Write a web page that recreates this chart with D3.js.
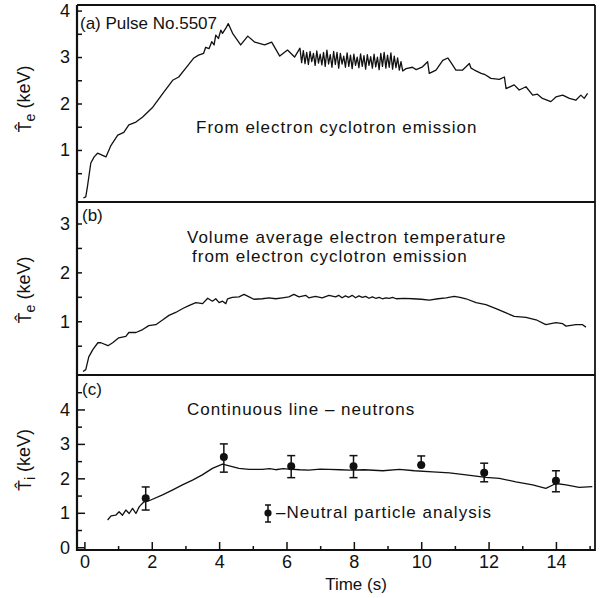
<!DOCTYPE html>
<html>
<head>
<meta charset="utf-8">
<script src="https://cdn.jsdelivr.net/npm/d3@7"></script>
<style>
  body { margin: 0; background: #fff; }
  text { font-family: "Liberation Sans", Arial, sans-serif; fill: #111; }
</style>
</head>
<body>
<div id="wrapper"></div>
<script>
// (a) electron temperature from ECE, [time s, keV]
const eceTe = [
  [-0.03,-0.03],[0.04,-0.01],[0.09,0.21],[0.19,0.72],[0.29,0.85],[0.39,0.93],[0.64,0.85],
  [0.79,1.1],[0.99,1.32],[1.17,1.38],[1.32,1.54],[1.53,1.6],[1.73,1.71],[2.03,1.92],
  [2.33,2.22],[2.62,2.5],[2.8,2.57],[3.01,2.76],[3.25,2.98],[3.39,3.04],[3.54,3.08],
  [3.6,3.21],[3.7,3.18],[3.78,3.33],[3.85,3.26],[3.9,3.47],[3.98,3.4],[4.05,3.58],
  [4.1,3.51],[4.2,3.62],[4.27,3.72],[4.4,3.51],[4.64,3.26],[4.85,3.45],[5.06,3.32],
  [5.35,3.26],[5.56,3.32],[5.8,3.02],[6.03,3.15],[6.24,3.0],[6.4,3.19],
  [6.45,2.88],[6.5,3.14],[6.55,2.86],[6.6,3.1],[6.65,2.84],[6.7,3.12],[6.75,2.9],
  [6.8,3.08],[6.85,2.82],[6.9,3.13],[6.95,2.87],[7.0,3.06],[7.05,2.83],[7.1,3.1],
  [7.15,2.8],[7.2,3.15],[7.25,2.85],[7.3,3.05],[7.35,2.78],[7.4,3.12],[7.45,2.84],
  [7.5,3.1],[7.55,2.76],[7.6,3.08],[7.65,2.85],[7.7,3.02],[7.75,2.78],[7.8,3.09],
  [7.85,2.8],[7.9,3.04],[7.95,2.75],[8.0,3.06],[8.05,2.82],[8.1,3.0],[8.15,2.77],
  [8.2,3.07],[8.25,2.8],[8.3,3.03],[8.35,2.74],[8.4,3.05],[8.45,2.82],[8.5,3.01],
  [8.55,2.76],[8.6,3.06],[8.65,2.79],[8.7,3.0],[8.75,2.73],[8.8,3.08],[8.85,2.8],
  [8.9,3.1],[8.95,2.76],[9.0,3.04],[9.05,2.78],[9.1,3.09],[9.15,2.74],[9.2,3.02],
  [9.25,2.77],[9.3,2.98],[9.35,2.72],[9.4,2.9],[9.45,2.7],
  [9.55,2.75],[9.74,2.78],[9.85,2.73],[10.04,2.79],[10.19,2.9],[10.24,2.65],[10.44,2.72],
  [10.64,2.93],[10.79,2.98],[10.93,2.83],[11.03,2.72],[11.23,2.72],[11.43,2.86],[11.48,2.76],
  [11.58,2.72],[11.78,2.65],[11.9,2.62],[12.07,2.54],[12.32,2.52],[12.47,2.57],[12.52,2.32],
  [12.76,2.4],[12.91,2.29],[13.11,2.36],[13.31,2.18],[13.45,2.2],[13.6,2.11],[13.85,2.04],
  [14.0,2.14],[14.2,2.18],[14.4,2.11],[14.59,2.07],[14.74,2.18],[14.84,2.11],[14.94,2.22]
]

// (b) volume average electron temperature
const volTe = [
  [-0.04,-0.03],[0.04,0.01],[0.13,0.27],[0.25,0.42],[0.4,0.56],[0.49,0.56],[0.7,0.5],
  [0.84,0.56],[1.02,0.66],[1.23,0.69],[1.32,0.77],[1.53,0.77],[1.73,0.83],[1.91,0.91],
  [2.12,0.93],[2.33,1.03],[2.51,1.12],[2.71,1.18],[2.92,1.26],[3.1,1.32],[3.31,1.38],
  [3.51,1.36],[3.66,1.47],[3.8,1.41],[3.9,1.46],[4.0,1.38],[4.1,1.41],[4.2,1.36],
  [4.25,1.46],[4.39,1.49],[4.59,1.5],[4.74,1.55],[4.89,1.5],[5.03,1.45],[5.28,1.46],
  [5.48,1.48],[5.68,1.46],[5.88,1.48],[6.07,1.5],[6.22,1.55],[6.37,1.5],[6.57,1.53],
  [6.66,1.48],[6.86,1.51],[7.06,1.48],[7.26,1.53],[7.46,1.5],[7.55,1.53],[7.65,1.48],
  [7.75,1.52],[7.85,1.49],[7.95,1.53],[8.05,1.48],[8.15,1.52],[8.25,1.49],[8.35,1.51],
  [8.45,1.47],[8.55,1.5],[8.65,1.47],[8.75,1.49],[8.85,1.46],[8.95,1.48],[9.05,1.47],
  [9.15,1.49],[9.26,1.46],[9.5,1.47],[9.75,1.46],[10.0,1.45],[10.24,1.43],[10.5,1.46],
  [10.74,1.48],[10.98,1.51],[11.15,1.49],[11.33,1.46],[11.63,1.38],[11.92,1.34],
  [12.22,1.26],[12.52,1.17],[12.76,1.1],[13.11,1.08],[13.41,1.03],[13.7,0.93],
  [14.0,0.97],[14.2,0.95],[14.3,0.9],[14.59,0.93],[14.79,0.93],[14.89,0.88]
]

// (c) ion temperature from neutrons
const neutronTi = [
  [0.69,0.79],[0.79,0.91],[0.93,0.93],[1.03,1.03],[1.13,0.93],[1.23,1.08],[1.33,0.98],
  [1.43,1.13],[1.53,0.98],[1.63,1.18],[1.77,1.32],[1.92,1.35],[2.32,1.52],[2.61,1.66],
  [2.91,1.81],[3.21,1.95],[3.5,2.1],[3.8,2.29],[4.1,2.41],[4.3,2.36],[4.59,2.29],
  [4.89,2.26],[5.28,2.26],[5.5,2.28],[5.68,2.25],[5.9,2.28],[6.07,2.27],[6.4,2.25],
  [6.66,2.24],[7.0,2.27],[7.26,2.26],[7.6,2.25],[7.87,2.24],[8.3,2.25],[8.86,2.22],
  [9.35,2.26],[9.8,2.22],[10.34,2.19],[10.84,2.16],[11.33,2.1],[11.92,2.03],[12.32,2.0],
  [12.81,1.9],[13.31,1.81],[13.7,1.71],[14.0,1.85],[14.3,1.81],[14.69,1.74],[15.08,1.76]
]

// neutral particle analysis points
const npaTime = [1.82, 4.14, 6.14, 7.99, 10.0, 11.87, 14.0]
const npaTi   = [1.42, 2.62, 2.35, 2.35, 2.39, 2.16, 1.93]
const npaLow  = [1.08, 2.18, 2.02, 2.02, 2.39, 1.9, 1.61]
const npaHigh = [1.75, 3.0, 2.66, 2.66, 2.65, 2.44, 2.22]

const xTicks = [0, 2, 4, 6, 8, 10, 12, 14]
const xMinorTicks = [1, 3, 5, 7, 9, 11, 13, 15]
const yTicksA = [1, 2, 3, 4]
const yTicksB = [1, 2, 3]
const yTicksC = [0, 1, 2, 3, 4]

function drawChart() {
  const dimensions = {
    width: 606,
    height: 598,
    left: 77,
    right: 595,
  }

  const wrapper = d3.select("#wrapper")
    .append("svg")
      .attr("width", dimensions.width)
      .attr("height", dimensions.height)

  wrapper.append("rect")
    .attr("width", dimensions.width)
    .attr("height", dimensions.height)
    .attr("fill", "white")

  const xScale = d3.scaleLinear()
    .domain([-0.22, 15.16])
    .range([dimensions.left, dimensions.right])

  const panels = [
    { top: 5, bottom: 202, domain: [-0.12, 4.12], ticks: yTicksA, minor: [0.5, 1.5, 2.5, 3.5], data: eceTe, tick: 5 },
    { top: 202, bottom: 375, domain: [-0.1, 3.44], ticks: yTicksB, minor: [0.5, 1.5, 2.5], data: volTe, tick: 5 },
    { top: 375, bottom: 550, domain: [-0.08, 5.0], ticks: yTicksC, minor: [0.5, 1.5, 2.5, 3.5, 4.5], data: neutronTi, tick: 8 },
  ]

  panels.forEach(p => {
    p.yScale = d3.scaleLinear()
      .domain(p.domain)
      .range([p.bottom, p.top])

    const yAxis = wrapper.append("g")
      .attr("transform", `translate(${dimensions.left},0)`)
      .call(d3.axisLeft(p.yScale)
        .tickValues(p.ticks)
        .tickSize(-p.tick)
        .tickPadding(7)
        .tickFormat(d3.format("d")))
    yAxis.select(".domain").remove()
    yAxis.selectAll("line").attr("stroke", "#111").attr("stroke-width", 1.5)
    yAxis.selectAll("text")
      .style("font-family", "'Liberation Sans', Arial, sans-serif")
      .style("font-size", "18px")
      .attr("fill", "#111")

    const yMinor = wrapper.append("g")
      .attr("transform", `translate(${dimensions.left},0)`)
      .call(d3.axisLeft(p.yScale)
        .tickValues(p.minor)
        .tickSize(-5)
        .tickFormat(""))
    yMinor.select(".domain").remove()
    yMinor.selectAll("line").attr("stroke", "#111").attr("stroke-width", 1.5)

    const line = d3.line()
      .x(d => xScale(d[0]))
      .y(d => p.yScale(d[1]))

    wrapper.append("path")
      .datum(p.data)
      .attr("d", line)
      .attr("fill", "none")
      .attr("stroke", "#111")
      .attr("stroke-width", 1.3)
      .attr("stroke-linejoin", "round")
  })

  // frame
  const frame = wrapper.append("g")
    .attr("stroke", "#111")
  frame.append("line")
    .attr("x1", dimensions.left).attr("x2", dimensions.left)
    .attr("y1", 5).attr("y2", 551)
    .attr("stroke-width", 2.2)
  frame.append("line")
    .attr("x1", dimensions.right).attr("x2", dimensions.right)
    .attr("y1", 5).attr("y2", 551)
    .attr("stroke-width", 1.8)
  ;[5, 202, 375, 550].forEach((y, i) => {
    frame.append("line")
      .attr("x1", dimensions.left).attr("x2", dimensions.right)
      .attr("y1", y).attr("y2", y)
      .attr("stroke-width", i === 3 ? 2.2 : 1.8)
  })

  // x axis on the bottom panel
  const xAxis = wrapper.append("g")
    .attr("transform", "translate(0,550)")
    .call(d3.axisBottom(xScale)
      .tickValues(xTicks)
      .tickSize(-8)
      .tickPadding(5))
  xAxis.select(".domain").remove()
  xAxis.selectAll("line").attr("stroke", "#111").attr("stroke-width", 1.5)
  xAxis.selectAll("text")
    .style("font-family", "'Liberation Sans', Arial, sans-serif")
    .style("font-size", "18px")
    .attr("fill", "#111")

  const xMinor = wrapper.append("g")
    .attr("transform", "translate(0,550)")
    .call(d3.axisBottom(xScale)
      .tickValues(xMinorTicks.filter(d => d < 15.1))
      .tickSize(-4)
      .tickFormat(""))
  xMinor.select(".domain").remove()
  xMinor.selectAll("line").attr("stroke", "#111").attr("stroke-width", 1.5)

  wrapper.append("text")
    .attr("x", 356)
    .attr("y", 590)
    .attr("text-anchor", "middle")
    .style("font-size", "17px")
    .text("Time (s)")

  // neutral particle points with error bars
  const yC = panels[2].yScale
  const npa = wrapper.append("g")
    .selectAll("g")
    .data(npaTime)
    .join("g")
  npa.append("line")
    .attr("x1", d => xScale(d)).attr("x2", d => xScale(d))
    .attr("y1", (d, i) => yC(npaLow[i])).attr("y2", (d, i) => yC(npaHigh[i]))
    .attr("stroke", "#111").attr("stroke-width", 1.5)
  npa.append("line")
    .attr("x1", d => xScale(d) - 4).attr("x2", d => xScale(d) + 4)
    .attr("y1", (d, i) => yC(npaHigh[i])).attr("y2", (d, i) => yC(npaHigh[i]))
    .attr("stroke", "#111").attr("stroke-width", 1.5)
  npa.append("line")
    .attr("x1", d => xScale(d) - 4).attr("x2", d => xScale(d) + 4)
    .attr("y1", (d, i) => yC(npaLow[i])).attr("y2", (d, i) => yC(npaLow[i]))
    .attr("stroke", "#111").attr("stroke-width", 1.5)
  npa.append("circle")
    .attr("cx", d => xScale(d))
    .attr("cy", (d, i) => yC(npaTi[i]))
    .attr("r", 4)
    .attr("fill", "#111")

  // legend symbol
  const legend = wrapper.append("g").attr("stroke", "#111").attr("stroke-width", 1.5)
  legend.append("line").attr("x1", 268).attr("x2", 268).attr("y1", 505).attr("y2", 522)
  legend.append("line").attr("x1", 265).attr("x2", 271).attr("y1", 505).attr("y2", 505)
  legend.append("line").attr("x1", 265).attr("x2", 271).attr("y1", 522).attr("y2", 522)
  legend.append("circle").attr("cx", 268).attr("cy", 513).attr("r", 3.6).attr("fill", "#111").attr("stroke", "none")

  // annotations
  const notes = [
    { x: 80, y: 29, text: "(a) Pulse No.5507", ls: 0 },
    { x: 196, y: 133, text: "From electron cyclotron emission", ls: 1 },
    { x: 82, y: 221, text: "(b)", ls: 0 },
    { x: 187, y: 243, text: "Volume average electron temperature", ls: 1 },
    { x: 192, y: 262, text: "from electron cyclotron emission", ls: 1 },
    { x: 82, y: 395, text: "(c)", ls: 0 },
    { x: 187, y: 415, text: "Continuous line \u2013 neutrons", ls: 1 },
    { x: 276, y: 518, text: "\u2013Neutral particle analysis", ls: 1 },
  ]
  wrapper.append("g")
    .selectAll("text")
    .data(notes)
    .join("text")
      .attr("x", d => d.x)
      .attr("y", d => d.y)
      .style("font-size", "17px")
      .style("letter-spacing", d => d.ls + "px")
      .text(d => d.text)

  // y axis titles
  const titles = [
    { y: 99, sub: "e" },
    { y: 290, sub: "e" },
    { y: 460, sub: "i" },
  ]
  titles.forEach(t => {
    const label = wrapper.append("text")
      .attr("transform", `translate(31,${t.y}) rotate(-90)`)
      .attr("text-anchor", "middle")
      .style("font-size", "18px")
    label.append("tspan").text("T\u0302")
    label.append("tspan").attr("dy", "0.3em").style("font-size", "14px").text(t.sub)
    label.append("tspan").attr("dy", "-0.3em").text(" (keV)")
  })
}

drawChart()
</script>
</body>
</html>
